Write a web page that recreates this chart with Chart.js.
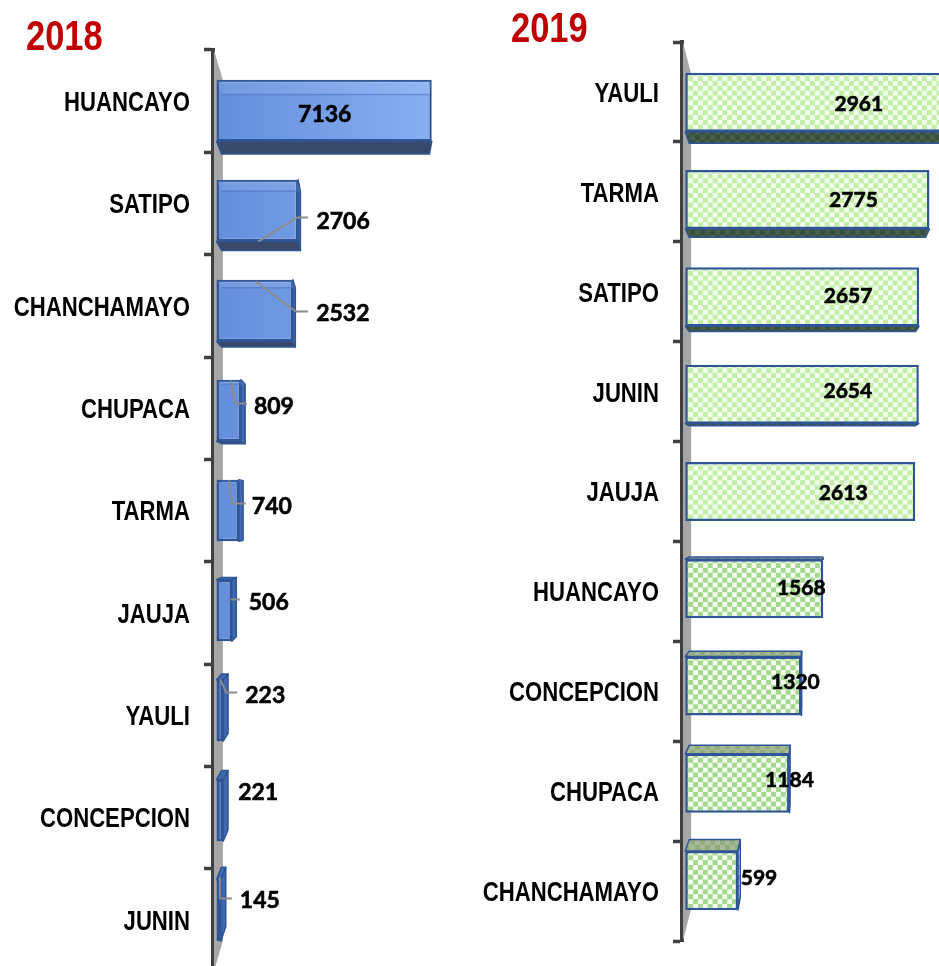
<!DOCTYPE html>
<html lang="es">
    <head>
        <meta charset="UTF-8" />
        <title>2018 - 2019</title>
        <script src="https://cdn.jsdelivr.net/npm/chart.js"></script>
        <style>
            html, body { margin: 0; padding: 0; background: #fff; }
            #hoja { position: relative; width: 939px; height: 966px; overflow: hidden; }
            canvas { position: absolute; top: 0; }
        </style>
    </head>
    <body>
        <div id="hoja">
            <canvas id="g2018" width="470" height="980" style="left:0"></canvas>
            <canvas id="g2019" width="500" height="980" style="left:470px"></canvas>
        </div>

        <script>
            // Datos
            const categorias2018 = ["HUANCAYO", "SATIPO", "CHANCHAMAYO", "CHUPACA", "TARMA", "JAUJA", "YAULI", "CONCEPCION", "JUNIN"];
            const valores2018 = [7136, 2706, 2532, 809, 740, 506, 223, 221, 145];
            const categorias2019 = ["YAULI", "TARMA", "SATIPO", "JUNIN", "JAUJA", "HUANCAYO", "CONCEPCION", "CHUPACA", "CHANCHAMAYO"];
            const valores2019 = [2961, 2775, 2657, 2654, 2613, 1568, 1320, 1184, 599];

            const AZUL_BORDE = "#2f5597";
            const ROJO = "#c00000";
            const GRIS_EJE = "#404040";

            // Ajuste manual de las etiquetas respecto al extremo de cada barra
            const ajusteEtiquetas2018 = [[-107, 4], [45, 11], [50, 3], [33, -4], [33, -4], [37, -8], [42, -15], [35, -18], [39, -10]];
            const ajusteEtiquetas2019 = [[-87, 2], [-76, 1], [-71, -1], [-71, -3], [-72, 2], [-22, 0], [-6, -4], [0, -3], [21, -2]];

            // Lineas guia, relativas al centro de la etiqueta
            const guias2018 = [
                null,
                [[-35, -4], [-46, -4], [-85, 20]],
                [[-35, -2], [-47, -2], [-87, -32]],
                [[-27, -3], [-39, -3], [-43, -26]],
                [[-26, -3], [-39, -3], [-43, -26]],
                [[-29, -3], [-38, -3]],
                [[-28, -3], [-39, -3], [-45, -16]],
                null,
                [[-28, -2], [-40, -2], [-40, -23]],
            ];

            function cuadros(ctxBase, color, fondo) {
                const c = document.createElement("canvas");
                c.width = 10;
                c.height = 10;
                const x = c.getContext("2d");
                x.fillStyle = fondo;
                x.fillRect(0, 0, 10, 10);
                x.fillStyle = color;
                x.fillRect(0, 0, 5, 5);
                x.fillRect(5, 5, 5, 5);
                return ctxBase.createPattern(c, "repeat");
            }

            // Texto estrecho: no hay Arial Narrow, se comprime Liberation Sans
            function textoEstrecho(ctx, texto, x, y, size, color, alinear) {
                ctx.save();
                ctx.translate(x, y);
                ctx.scale(0.82, 1);
                ctx.font = "bold " + size + "px 'Liberation Sans'";
                ctx.fillStyle = color;
                ctx.textAlign = alinear;
                ctx.textBaseline = "middle";
                ctx.fillText(texto, 0, 0);
                ctx.restore();
            }

            // Efecto 3D: se proyecta cada barra hacia un punto de fuga
            const efecto3D = {
                id: "efecto3D",
                beforeDatasetsDraw(chart, args, o) {
                    const a = chart.chartArea;
                    const ctx = chart.ctx;
                    const p = (x, y, k) => [o.fugaX + (x - o.fugaX) * k, o.fugaY + (y - o.fugaY) * k];
                    const t = p(a.left, a.top, o.kPared);
                    const b = p(a.left, a.bottom, o.kPared);
                    ctx.fillStyle = "#a6a6a6";
                    ctx.beginPath();
                    ctx.moveTo(a.left + 1, a.top);
                    ctx.lineTo(t[0], t[1]);
                    ctx.lineTo(b[0], b[1]);
                    ctx.lineTo(a.left + 1, a.bottom);
                    ctx.closePath();
                    ctx.fill();
                },
                beforeDatasetDraw(chart, args, o) {
                    const ctx = chart.ctx;
                    const p = (x, y, k) => [o.fugaX + (x - o.fugaX) * k, o.fugaY + (y - o.fugaY) * k];
                    const cara = (pts, relleno) => {
                        ctx.beginPath();
                        pts.forEach((q, i) => (i ? ctx.lineTo(q[0], q[1]) : ctx.moveTo(q[0], q[1])));
                        ctx.closePath();
                        ctx.fillStyle = relleno;
                        ctx.fill();
                        ctx.lineWidth = 1.5;
                        ctx.lineJoin = "round";
                        ctx.strokeStyle = AZUL_BORDE;
                        ctx.stroke();
                    };
                    chart.getDatasetMeta(args.index).data.forEach((bar) => {
                        const e = bar.getProps(["x", "y", "base", "height"], true);
                        const top = e.y - e.height / 2;
                        const bot = e.y + e.height / 2;
                        const kA = o.kFrente * o.kFondo;
                        const fTL = p(e.base, top, o.kFrente), fTR = p(e.x, top, o.kFrente);
                        const fBL = p(e.base, bot, o.kFrente), fBR = p(e.x, bot, o.kFrente);
                        const bTL = p(e.base, top, kA), bTR = p(e.x, top, kA);
                        const bBL = p(e.base, bot, kA), bBR = p(e.x, bot, kA);
                        if (bBL[1] > fBL[1]) cara([fBL, fBR, bBR, bBL], o.caras.abajo);
                        if (bTL[1] < fTL[1]) cara([fTL, fTR, bTR, bTL], o.caras.arriba);
                        if (bTR[0] > fTR[0]) cara([fTR, bTR, bBR, fBR], o.caras.lado);
                    });
                    // la barra de la libreria se dibuja en el plano frontal
                    ctx.save();
                    ctx.translate(o.fugaX, o.fugaY);
                    ctx.scale(o.kFrente, o.kFrente);
                    ctx.translate(-o.fugaX, -o.fugaY);
                },
                afterDatasetDraw(chart, args, o) {
                    chart.ctx.restore();
                    if (!o.bandaClara) return;
                    const ctx = chart.ctx;
                    const p = (x, y, k) => [o.fugaX + (x - o.fugaX) * k, o.fugaY + (y - o.fugaY) * k];
                    chart.getDatasetMeta(args.index).data.forEach((bar) => {
                        const e = bar.getProps(["x", "y", "base", "height"], true);
                        const top = e.y - e.height / 2;
                        const kA = o.kFrente * o.kFondo;
                        const f1 = p(e.base, top, o.kFrente), f2 = p(e.x, top, o.kFrente);
                        const b1 = p(e.base, top, kA), b2 = p(e.x, top, kA);
                        if (b1[1] <= f1[1] + 1) return;
                        ctx.beginPath();
                        ctx.moveTo(f1[0] + 1, f1[1] + 1);
                        ctx.lineTo(f2[0] - 1, f2[1] + 1);
                        ctx.lineTo(b2[0], b2[1]);
                        ctx.lineTo(b1[0], b1[1]);
                        ctx.closePath();
                        ctx.fillStyle = "rgba(255,255,255,0.1)";
                        ctx.fill();
                        ctx.beginPath();
                        ctx.moveTo(b1[0], b1[1]);
                        ctx.lineTo(b2[0], b2[1]);
                        ctx.strokeStyle = "rgba(70,110,190,0.55)";
                        ctx.lineWidth = 1.5;
                        ctx.stroke();
                    });
                },
                afterDraw(chart, args, o) {
                    const ctx = chart.ctx;
                    const p = (x, y, k) => [o.fugaX + (x - o.fugaX) * k, o.fugaY + (y - o.fugaY) * k];
                    const valores = chart.data.datasets[0].data;
                    chart.getDatasetMeta(0).data.forEach((bar, i) => {
                        const e = bar.getProps(["x", "y"], true);
                        const f = p(e.x, e.y, o.kFrente);
                        const lx = f[0] + o.ajuste[i][0];
                        const ly = f[1] + o.ajuste[i][1];
                        const guia = o.guias && o.guias[i];
                        if (guia) {
                            ctx.beginPath();
                            guia.forEach((q, j) => (j ? ctx.lineTo(lx + q[0], ly + q[1]) : ctx.moveTo(lx + q[0], ly + q[1])));
                            ctx.strokeStyle = "#8c8c8c";
                            ctx.lineWidth = 2;
                            ctx.stroke();
                        }
                        ctx.font = "bold " + o.tamEtiqueta + "px Lato";
                        ctx.fillStyle = "#000";
                        ctx.strokeStyle = "#000";
                        ctx.lineWidth = 0.6;
                        ctx.textAlign = "center";
                        ctx.textBaseline = "middle";
                        ctx.fillText(valores[i], lx, ly);
                        ctx.strokeText(valores[i], lx, ly);
                    });
                    // rotulos de categoria y titulo
                    const ejeY = chart.scales.y;
                    chart.data.labels.forEach((nombre, i) => {
                        textoEstrecho(ctx, nombre, ejeY.right - o.finRotulos, ejeY.getPixelForTick(i) + 2.5, 27, "#000", "right");
                    });
                    textoEstrecho(ctx, o.titulo, o.tituloX, o.tituloY, 42, ROJO, "left");
                },
            };

            function crearGrafico(id, categorias, valores, op) {
                new Chart(document.getElementById(id).getContext("2d"), {
                    type: "bar",
                    data: {
                        labels: categorias,
                        datasets: [
                            {
                                data: valores,
                                backgroundColor: op.relleno,
                                borderColor: AZUL_BORDE,
                                borderWidth: 2.5,
                                borderSkipped: false,
                                categoryPercentage: 1,
                                barPercentage: op.anchoBarra,
                                clip: false,
                            },
                        ],
                    },
                    plugins: [efecto3D],
                    options: {
                        indexAxis: "y",
                        responsive: false,
                        animation: false,
                        layout: { padding: op.margen },
                        scales: {
                            x: { display: false, min: 0, max: op.maximo },
                            y: {
                                afterFit: (s) => { s.width = op.anchoEje; },
                                grid: { drawOnChartArea: false, tickLength: 9, tickWidth: 3.5, tickColor: GRIS_EJE },
                                border: { color: GRIS_EJE, width: 4 },
                                ticks: { display: false },
                            },
                        },
                        plugins: {
                            legend: { display: false },
                            tooltip: { enabled: false },
                            title: { display: false },
                            efecto3D: op.efecto,
                        },
                    },
                });
            }

            crearGrafico("g2018", categorias2018, valores2018, {
                margen: { left: 0, top: 50, right: 10, bottom: 9 },
                anchoEje: 213,
                maximo: 8000,
                anchoBarra: 0.615,
                relleno: (c) => {
                    if (c.raw < 300) return "#4a74bd";
                    const g = c.chart.ctx.createLinearGradient(213, 0, 433, 0);
                    g.addColorStop(0, "#648edb");
                    g.addColorStop(1, "#87aff2");
                    return g;
                },
                efecto: {
                    titulo: "2018",
                    tituloX: 26,
                    tituloY: 38,
                    tamEtiqueta: 23,
                    finRotulos: 23,
                    fugaX: 365,
                    fugaY: 511,
                    kFrente: 0.977,
                    kFondo: 0.966,
                    kPared: 0.935,
                    bandaClara: true,
                    ajuste: ajusteEtiquetas2018,
                    guias: guias2018,
                    caras: { abajo: "#38496b", arriba: "#3f68b0", lado: "#3f68b0" },
                },
            });

            const ctx2019 = document.getElementById("g2019").getContext("2d");
            const verdeClaro = cuadros(ctx2019, "#c2eea6", "#f4fced");
            const verdeFuerte = cuadros(ctx2019, "#a3d98c", "#f6fbf1");

            crearGrafico("g2019", categorias2019, valores2019, {
                margen: { left: 0, top: 42, right: 17, bottom: 39 },
                anchoEje: 212,
                maximo: 3000,
                anchoBarra: 0.606,
                relleno: (c) => (c.dataIndex < 5 ? verdeClaro : verdeFuerte),
                efecto: {
                    titulo: "2019",
                    tituloX: 41,
                    tituloY: 30,
                    tamEtiqueta: 21,
                    finRotulos: 23,
                    fugaX: 339,
                    fugaY: 489,
                    kFrente: 0.974,
                    kFondo: 0.968,
                    kPared: 0.928,
                    bandaClara: false,
                    ajuste: ajusteEtiquetas2019,
                    caras: {
                        abajo: cuadros(ctx2019, "#37503a", "#4a5c4c"),
                        arriba: cuadros(ctx2019, "#8fae78", "#a9b79d"),
                        lado: cuadros(ctx2019, "#a3d98c", "#dcedcf"),
                    },
                },
            });
        </script>
    </body>
</html>
